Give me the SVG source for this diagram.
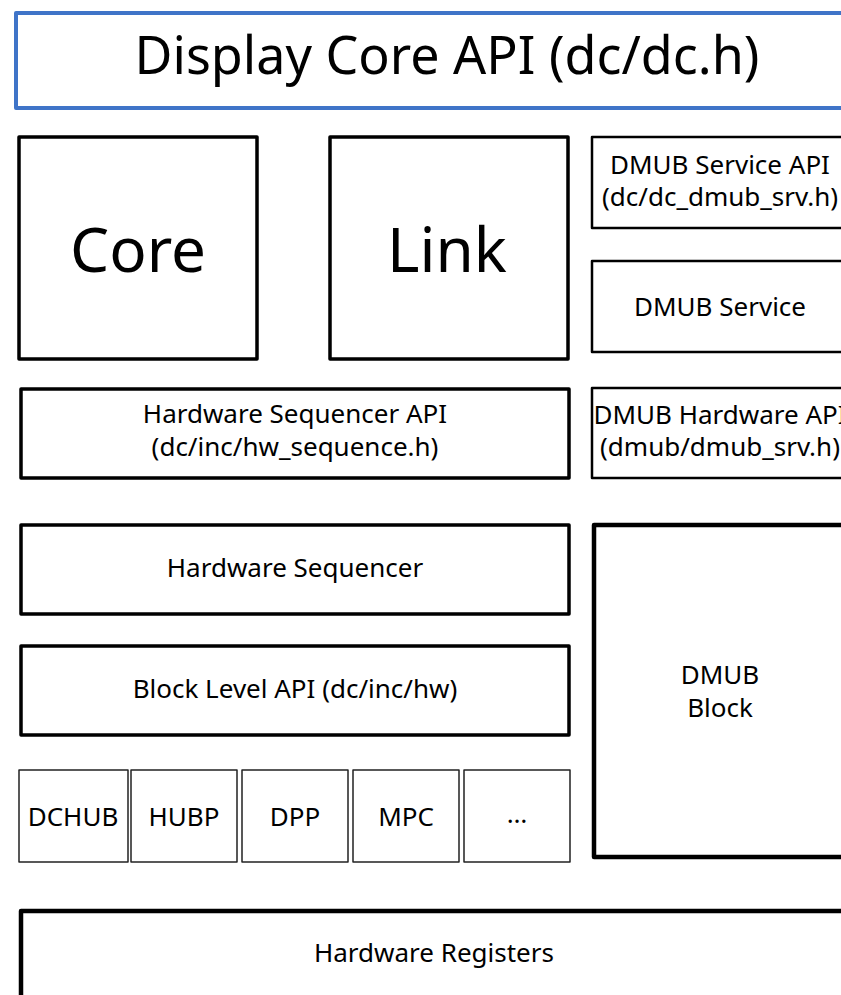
<svg xmlns="http://www.w3.org/2000/svg" width="841" height="995" viewBox="0 0 841 995">
<style>
rect{fill:#fff;stroke:#000;stroke-linejoin:round}
.t{font-family:"Noto Sans","Open Sans","DejaVu Sans",sans-serif;fill:#000;text-anchor:middle}
.s{font-size:26px}
.b3{stroke-width:3.5}
.b2{stroke-width:2.5}
.b1{stroke-width:1.5;stroke:#222}
.b4{stroke-width:4.5}
</style>
<rect width="841" height="995" style="fill:#fff;stroke:none"/>
<g id="title"><rect x="16" y="13" width="870" height="95" style="stroke:#3f74c8;stroke-width:4"/><text class="t" x="447" y="74" font-size="52">Display Core API (dc/dc.h)</text></g>
<g id="core"><rect class="b3" x="19" y="137" width="238" height="222"/><text class="t" x="138" y="272" font-size="62">Core</text></g>
<g id="link"><rect class="b3" x="330" y="137" width="238" height="222"/><text class="t" x="447" y="272" font-size="62">Link</text></g>
<g id="dmub_srv_api"><rect class="b2" x="592" y="137" width="256" height="91"/><text class="t s" x="720" y="174">DMUB Service API</text><text class="t s" x="720" y="206">(dc/dc_dmub_srv.h)</text></g>
<g id="dmub_srv"><rect class="b2" x="592" y="261" width="256" height="91"/><text class="t s" x="720" y="316">DMUB Service</text></g>
<g id="hwss_api"><rect class="b3" x="21" y="389" width="548" height="89"/><text class="t s" x="295" y="423">Hardware Sequencer API</text><text class="t s" x="295" y="456">(dc/inc/hw_sequence.h)</text></g>
<g id="dmub_hw_api"><rect class="b2" x="592" y="388" width="256" height="90"/><text class="t s" x="720" y="424">DMUB Hardware API</text><text class="t s" x="720" y="456">(dmub/dmub_srv.h)</text></g>
<g id="hwss"><rect class="b3" x="21" y="525" width="548" height="89"/><text class="t s" x="295" y="577">Hardware Sequencer</text></g>
<g id="block_api"><rect class="b3" x="21" y="646" width="548" height="89"/><text class="t s" x="295" y="698">Block Level API (dc/inc/hw)</text></g>
<g id="dmub_block"><rect class="b4" x="594" y="525" width="256" height="332"/><text class="t s" x="720" y="684">DMUB</text><text class="t s" x="720" y="717">Block</text></g>
<g id="dchub"><rect class="b1" x="19" y="770" width="109" height="92"/><text class="t s" x="73" y="826">DCHUB</text></g>
<g id="hubp"><rect class="b1" x="131" y="770" width="106" height="92"/><text class="t s" x="184" y="826">HUBP</text></g>
<g id="dpp"><rect class="b1" x="242" y="770" width="106" height="92"/><text class="t s" x="295" y="826">DPP</text></g>
<g id="mpc"><rect class="b1" x="353" y="770" width="106" height="92"/><text class="t s" x="406" y="826">MPC</text></g>
<g id="more"><rect class="b1" x="464" y="770" width="106" height="92"/><text class="t s" x="517" y="823">…</text></g>
<g id="hw_regs"><rect class="b4" x="21" y="911" width="828" height="120"/><text class="t s" x="434" y="962">Hardware Registers</text></g>
<g id="connectors"></g>
</svg>
